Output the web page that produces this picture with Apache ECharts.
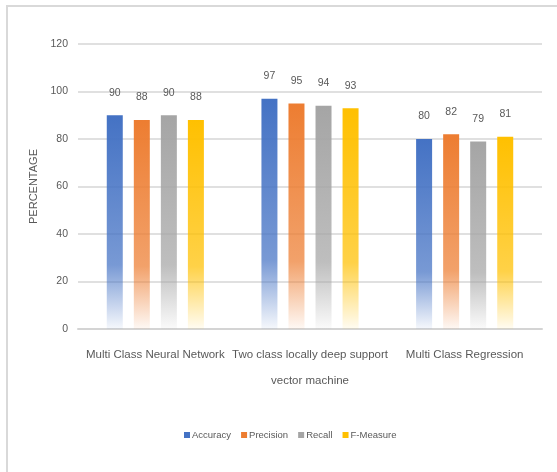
<!DOCTYPE html>
<html>
<head>
<meta charset="utf-8">
<script src="https://cdn.jsdelivr.net/npm/echarts@6/dist/echarts.min.js"></script>
<style>
  html, body { margin: 0; padding: 0; background: #ffffff; }
  #chart { width: 557px; height: 472px; }
</style>
</head>
<body>
<div id="chart"></div>
<script>
// Classifier comparison data
const categories = [
  'Multi Class Neural Network',
  'Two class locally deep support\nvector machine',
  'Multi Class Regression'
];
const accuracy  = [90, 97, 80];
const precision = [88, 95, 82];
const recall    = [90, 94, 79];
const fMeasure  = [88, 93, 81];
const yTicks    = [0, 20, 40, 60, 80, 100, 120];

const FONT = "'Liberation Sans', 'DejaVu Sans', sans-serif";
const TEXT = '#595959';

// Vertical fade: solid at the top, washing out toward the baseline
function fade(r, g, b) {
  return new echarts.graphic.LinearGradient(0, 0, 0, 1, [
    { offset: 0,    color: `rgba(${r},${g},${b},1)` },
    { offset: 0.7,  color: `rgba(${r},${g},${b},0.72)` },
    { offset: 0.82, color: `rgba(${r},${g},${b},0.45)` },
    { offset: 1,    color: `rgba(${r},${g},${b},0.05)` }
  ]);
}

function makeSeries(name, values, rgb, solid) {
  return {
    name: name,
    type: 'bar',
    data: values,
    barWidth: 16,
    barGap: '69%',
    itemStyle: { color: fade(rgb[0], rgb[1], rgb[2]) },
    label: {
      show: true,
      position: 'top',
      distance: 17,
      color: TEXT,
      fontFamily: FONT,
      fontSize: 10.5
    },
    // legend swatch uses the flat colour
    legendColor: solid
  };
}

const series = [
  makeSeries('Accuracy',  accuracy,  [68, 114, 196], '#4472C4'),
  makeSeries('Precision', precision, [237, 125, 49], '#ED7D31'),
  makeSeries('Recall',    recall,    [165, 165, 165], '#A5A5A5'),
  makeSeries('F-Measure', fMeasure,  [255, 192, 0],  '#FFC000')
];

const chart = echarts.init(document.getElementById('chart'), null, { renderer: 'canvas' });
chart.setOption({
  animation: false,
  backgroundColor: '#ffffff',
  graphic: [
    { type: 'line', shape: { x1: 7, y1: 5, x2: 7, y2: 472 }, style: { stroke: '#d9d9d9', lineWidth: 2 } },
    { type: 'line', shape: { x1: 6, y1: 6, x2: 557, y2: 6 }, style: { stroke: '#d9d9d9', lineWidth: 2 } }
  ],
  grid: { left: 78, right: 15, top: 44, bottom: 143, containLabel: false },
  legend: {
    bottom: 27,
    left: 179,
    itemWidth: 6,
    itemHeight: 6,
    itemGap: 10,
    icon: 'rect',
    textStyle: { color: TEXT, fontFamily: FONT, fontSize: 9.5, padding: [0, 0, 0, -3] },
    data: series.map(s => ({ name: s.name, itemStyle: { color: s.legendColor } }))
  },
  xAxis: {
    type: 'category',
    data: categories,
    axisLine: { lineStyle: { color: '#d4d4d4', width: 2 } },
    axisTick: { show: false },
    axisLabel: {
      color: TEXT,
      fontFamily: FONT,
      fontSize: 11.5,
      lineHeight: 26,
      margin: 13,
      interval: 0
    }
  },
  yAxis: {
    type: 'value',
    min: yTicks[0],
    max: yTicks[yTicks.length - 1],
    interval: yTicks[1] - yTicks[0],
    name: 'PERCENTAGE',
    nameLocation: 'middle',
    nameGap: 39,
    nameRotate: 90,
    nameTextStyle: { color: TEXT, fontFamily: FONT, fontSize: 11 },
    axisLine: { show: false },
    axisTick: { show: false },
    axisLabel: { color: TEXT, fontFamily: FONT, fontSize: 10.5, margin: 10 },
    splitLine: { lineStyle: { color: '#e0e0e0', width: 2 } }
  },
  series: series.map(({ legendColor, ...s }) => s)
});
</script>
</body>
</html>
